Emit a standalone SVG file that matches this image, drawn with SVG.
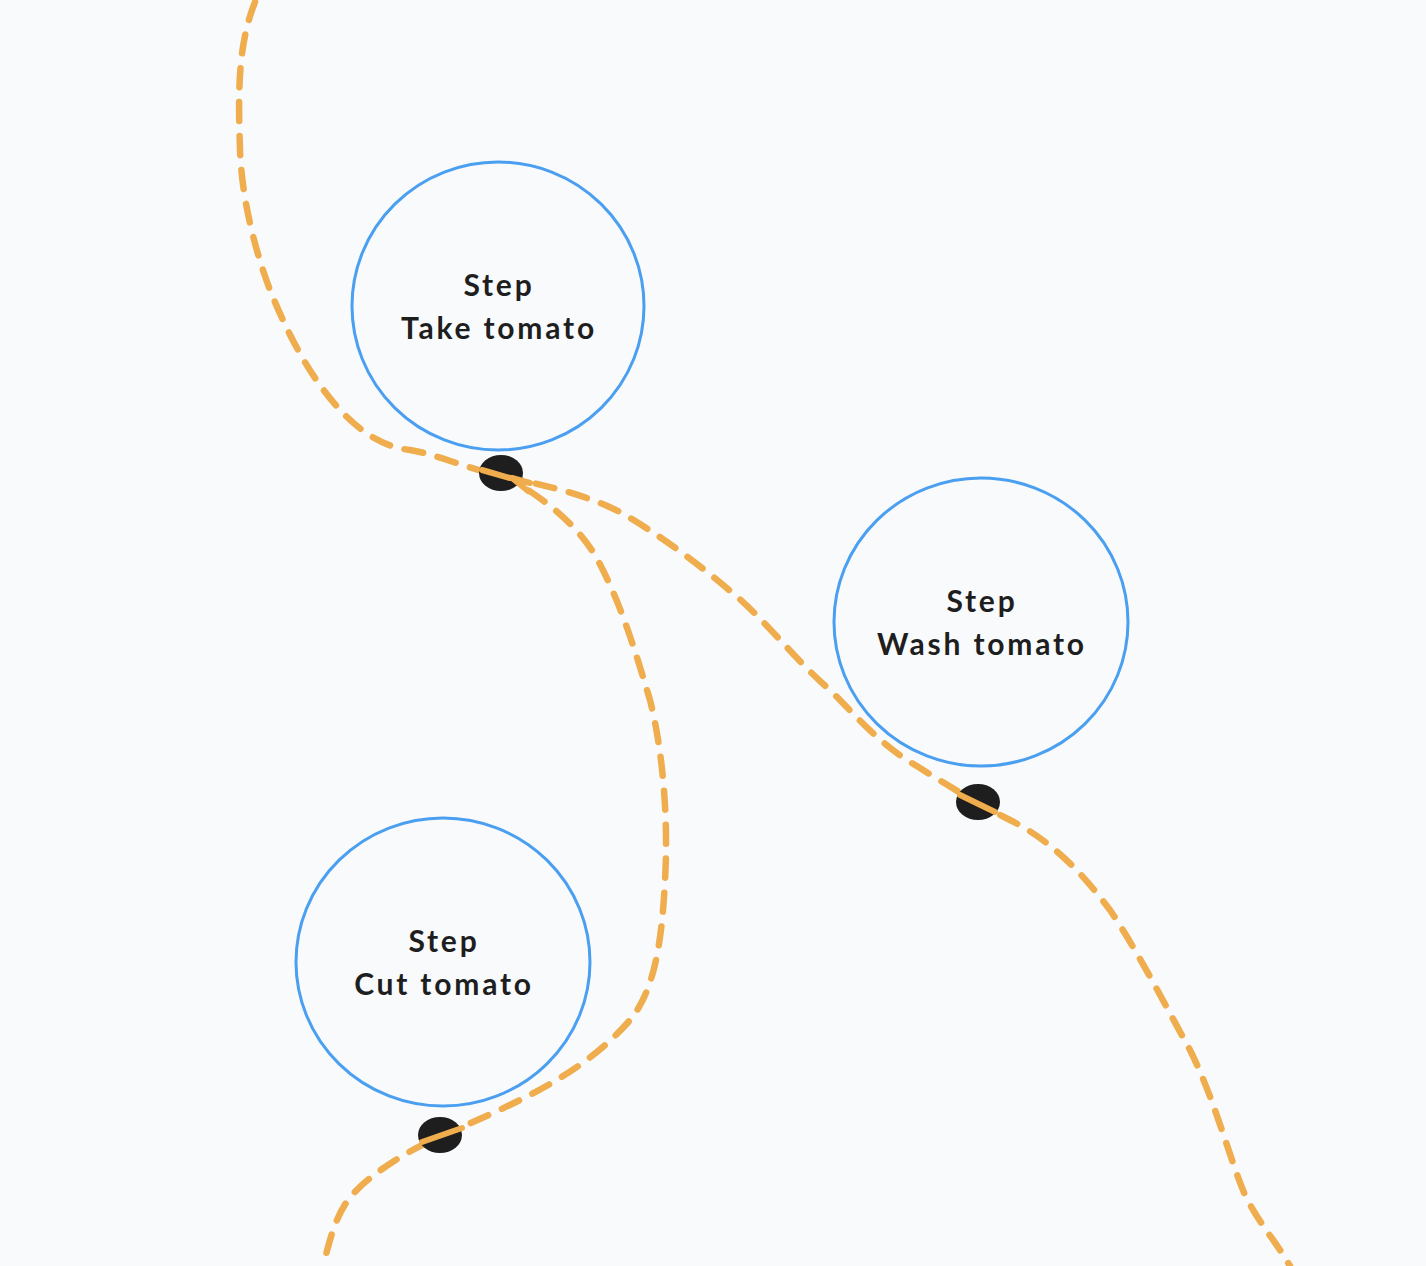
<svg xmlns="http://www.w3.org/2000/svg" width="1426" height="1266" viewBox="0 0 1426 1266">
<style>
.node{fill:none;stroke:#4a9ff0;stroke-width:3}
.lbl{font-family:"Lato","Noto Sans",sans-serif;font-weight:bold;font-size:30px;letter-spacing:2.8px;fill:#1e1e1e;text-anchor:middle}
.edge{fill:none;stroke:#f0ad4e;stroke-width:6.5;stroke-linecap:round;stroke-dasharray:19 15}
.dot{fill:#1e1e1e}
</style>
<rect width="1426" height="1266" fill="#f8fafc"/>
<g id="connectors">
<path class="edge" d="M255,2 C238,45 238,90 240,150 C242,200 255,250 270,290 C290,340 315,385 345,415 C365,435 385,447 410,450 C440,455 470,470 500,475 C540,485 580,492 620,512 C660,535 700,565 735,595 C770,625 795,660 830,690 C860,720 880,745 920,768 C950,787 980,805 1010,820 C1050,840 1080,870 1110,910 C1140,955 1165,1005 1190,1050 C1215,1100 1230,1160 1245,1195 C1260,1225 1275,1240 1290,1266"/>
<path class="edge" d="M500,473 C530,490 570,515 595,555 C620,600 635,650 650,700 C665,760 668,830 665,880 C662,940 655,990 630,1020 C600,1055 560,1080 520,1100 C490,1115 460,1128 440,1136 C400,1155 370,1175 352,1195 C335,1215 330,1240 323,1266"/>
</g>
<g id="dots">
<ellipse class="dot" cx="501" cy="473" rx="22" ry="18"/>
<path d="M482,470 L510,478" stroke="#f0ad4e" stroke-width="6" stroke-linecap="round"/>
<path d="M528,491 L512,478 L530,483" fill="none" stroke="#f0ad4e" stroke-width="6" stroke-linecap="round" stroke-linejoin="round"/>
<ellipse class="dot" cx="978" cy="802" rx="22" ry="18"/>
<path d="M960,795 L995,812" stroke="#f0ad4e" stroke-width="6" stroke-linecap="round"/>
<ellipse class="dot" cx="440" cy="1135" rx="22" ry="18"/>
<path d="M422,1142 L462,1128" stroke="#f0ad4e" stroke-width="6" stroke-linecap="round"/>
</g>
<g id="node-take">
<ellipse class="node" cx="498" cy="306" rx="146" ry="144"/>
<text class="lbl" x="499" y="296">Step</text>
<text class="lbl" x="499" y="339">Take tomato</text>
</g>
<g id="node-wash">
<ellipse class="node" cx="981" cy="622" rx="147" ry="144"/>
<text class="lbl" x="982" y="612">Step</text>
<text class="lbl" x="982" y="655">Wash tomato</text>
</g>
<g id="node-cut">
<ellipse class="node" cx="443" cy="962" rx="147" ry="144"/>
<text class="lbl" x="444" y="952">Step</text>
<text class="lbl" x="444" y="995">Cut tomato</text>
</g>
</svg>
